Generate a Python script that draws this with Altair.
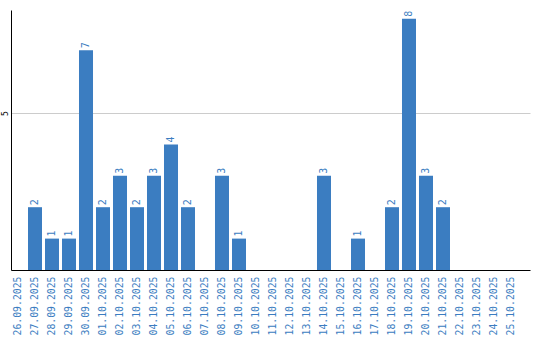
import altair as alt
import pandas as pd

dates = ["26.09.2025","27.09.2025","28.09.2025","29.09.2025","30.09.2025",
         "01.10.2025","02.10.2025","03.10.2025","04.10.2025","05.10.2025",
         "06.10.2025","07.10.2025","08.10.2025","09.10.2025","10.10.2025",
         "11.10.2025","12.10.2025","13.10.2025","14.10.2025","15.10.2025",
         "16.10.2025","17.10.2025","18.10.2025","19.10.2025","20.10.2025",
         "21.10.2025","22.10.2025","23.10.2025","24.10.2025","25.10.2025"]
values = [0,2,1,1,7,2,3,2,3,4,2,0,3,1,0,0,0,0,3,0,1,0,2,8,3,2,0,0,0,0]

df = pd.DataFrame({"date": dates, "value": values})
df["label"] = df["value"].apply(lambda v: str(v) if v > 0 else "")

blue = "#3b7dc1"
mono = "DejaVu Sans Mono"

x = alt.X("date:N", sort=dates, title=None,
          scale=alt.Scale(paddingInner=0.176, paddingOuter=0.353, align=0),
          axis=alt.Axis(labelAngle=270, labelColor=blue, labelFontSize=9.8,
                        labelFont=mono, ticks=False, domainColor="#000",
                        labelPadding=6, grid=False))
y = alt.Y("value:Q", title=None,
          scale=alt.Scale(domain=[0, 8.28], nice=False),
          axis=alt.Axis(values=[5], ticks=False, labelAngle=270, labelFontSize=8,
                        labelFont=mono, labelColor="#000", domainColor="#000",
                        gridColor="#cccccc", labelPadding=2, labelAlign="center",
                        labelBaseline="bottom"))

bars = alt.Chart(df).mark_bar(color=blue).encode(x=x, y=y)
text = alt.Chart(df).mark_text(angle=270, align="left", baseline="middle", dx=2,
                               color=blue, fontSize=10, font=mono).encode(
    x=alt.X("date:N", sort=dates), y="value:Q", text="label:N")

chart = (bars + text).properties(
    width=519, height=260,
    autosize=alt.AutoSizeParams(type="none"),
    padding={"left": 11, "top": 10, "right": 10, "bottom": 70},
    background="white",
).configure_view(stroke=None)

chart.save("out.html", embed_options={"renderer": "svg", "actions": False})
